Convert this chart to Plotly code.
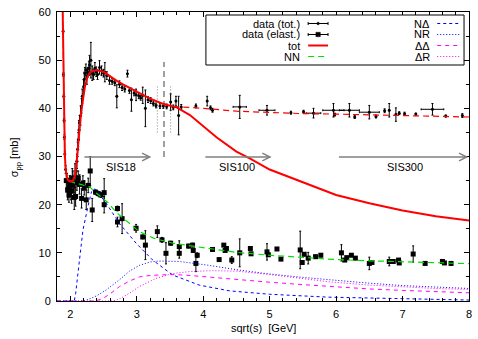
import plotly.graph_objects as go

# ---------------- data ----------------
# total cross-section curve (tot, red solid)
tot_curve_x = [1.886, 1.89, 1.895, 1.90, 1.905, 1.91, 1.918, 1.93, 1.95, 1.97, 2.0, 2.04, 2.07, 2.09, 2.11,
               2.13, 2.16, 2.19, 2.22, 2.26, 2.30, 2.35, 2.40, 2.50, 2.60, 2.70, 2.80, 3.00, 3.20,
               3.40, 3.60, 3.80, 4.00, 4.20, 4.50, 4.70, 5.00, 5.50, 6.00, 6.50, 7.00, 7.50, 8.00]
tot_curve_y = [60.0, 55.0, 49.0, 43.5, 39.0, 35.0, 30.5, 27.3, 25.6, 25.0, 24.8, 25.0, 26.0, 28.0, 31.5,
               35.0, 38.8, 41.7, 44.5, 46.6, 47.5, 47.8, 47.9, 47.6, 46.6, 45.7, 44.9, 43.4, 42.0,
               40.9, 40.2, 38.6, 36.3, 34.0, 31.0, 29.6, 27.3, 24.6, 22.0, 20.3, 18.8, 17.6, 16.7]

# high-energy total fit (red dashed)
fit_x = [3.55, 4.00, 4.50, 5.00, 5.50, 6.00, 7.00, 8.00]
fit_y = [40.4, 40.0, 39.4, 39.1, 38.9, 38.8, 38.5, 38.2]

# NN (elastic, green dashed)
nn_x = [1.886, 1.89, 1.895, 1.90, 1.905, 1.91, 1.918, 1.93, 1.95, 1.97, 2.0, 2.05, 2.10, 2.20, 2.29,
        2.40, 2.57, 2.70, 2.97, 3.04, 3.26, 3.54, 4.04, 4.50, 5.00, 5.50, 6.00, 6.50, 7.00, 7.50, 8.00]
nn_y = [60.0, 55.0, 49.0, 43.5, 39.0, 35.0, 30.5, 27.3, 25.6, 25.0, 24.8, 24.6, 24.4, 24.1, 23.7,
        22.3, 20.4, 18.3, 15.1, 14.4, 13.0, 12.0, 11.0, 10.1, 9.5, 9.0, 8.6, 8.35, 8.15, 7.95, 7.75]

# N-Delta (blue dashed)
nd_x = [1.80, 2.06, 2.08, 2.10, 2.14, 2.19, 2.27, 2.32, 2.37, 2.42, 2.54, 2.74, 2.99, 3.24, 3.54, 3.94,
        4.40, 5.00, 5.88, 7.00, 8.00]
nd_y = [0.0, 0.0, 1.5, 4.0, 9.2, 14.7, 19.9, 22.7, 23.3, 22.5, 20.3, 16.1, 12.0, 8.5, 5.4, 3.3,
        2.1, 1.4, 0.8, 0.4, 0.2]

# N-R (blue dotted)
nr_x = [1.80, 2.20, 2.30, 2.40, 2.54, 2.74, 2.89, 3.04, 3.20, 3.34, 3.64, 4.04, 4.50, 5.00, 5.50,
        5.88, 6.50, 7.00, 7.50, 8.00]
nr_y = [0.0, 0.0, 0.5, 1.1, 2.3, 4.4, 6.2, 7.4, 8.1, 8.3, 8.2, 7.5, 6.5, 5.6, 4.9, 4.4, 3.7, 3.2, 2.9, 2.6]

# Delta-Delta (magenta dashed)
dd_x = [1.80, 2.38, 2.50, 2.60, 2.74, 2.90, 3.04, 3.20, 3.34, 3.54, 3.80, 4.04, 4.50, 5.00, 5.50,
        5.88, 6.50, 7.00, 7.50, 8.00]
dd_y = [0.0, 0.0, 0.6, 1.5, 3.0, 4.2, 5.0, 5.3, 5.4, 5.5, 5.3, 5.0, 4.45, 3.9, 3.4, 3.0, 2.5, 2.2, 1.95, 1.7]

# Delta-R (magenta dotted)
dr_x = [1.80, 2.65, 2.75, 2.89, 3.04, 3.29, 3.54, 3.79, 4.14, 4.50, 5.00, 5.50, 5.88, 6.50, 7.00, 7.50, 8.00]
dr_y = [0.0, 0.0, 0.5, 1.6, 3.0, 4.7, 5.7, 6.1, 6.3, 6.2, 5.5, 4.6, 4.0, 3.3, 2.9, 2.6, 2.4]

# measured total cross sections
tot_x = [1.892, 1.897, 1.902, 1.907, 1.912, 1.918, 1.93,
         1.95, 1.97, 1.99, 2.01, 2.03, 2.05, 2.07, 2.09,
         2.10, 2.11, 2.12, 2.13, 2.14, 2.155, 2.17, 2.18, 2.20, 2.21, 2.22, 2.235, 2.25, 2.26, 2.28, 2.29,
         2.31, 2.33, 2.35, 2.37, 2.39, 2.41, 2.44, 2.47, 2.50, 2.52, 2.55, 2.59, 2.63, 2.67, 2.70, 2.74,
         2.78, 2.82, 2.86, 2.89, 2.92, 2.96, 2.99, 3.03, 3.06, 3.09, 3.13, 3.17, 3.21, 3.25, 3.29, 3.35,
         3.40, 3.45, 3.51, 3.55, 3.59, 3.63, 3.67, 3.89, 4.06, 4.11, 4.14, 4.55, 4.96, 5.32, 5.51, 5.66,
         5.96, 5.98, 6.20, 6.28, 6.50, 6.60, 6.73, 6.80, 6.90, 6.95, 7.03, 7.20, 7.45, 7.65, 7.90]
tot_y = [56.0, 47.0, 42.5, 37.5, 34.0, 30.5, 27.3,
         25.0, 23.5, 24.5, 23.0, 25.0, 24.0, 26.0, 27.0,
         29.0, 31.5, 33.5, 35.5, 37.0, 38.5, 40.5, 42.5, 44.5, 46.0, 47.3, 48.0, 46.5, 47.5, 48.3, 49.0,
         50.0, 47.3, 47.0, 48.3, 47.6, 47.0, 48.5, 47.8, 47.3, 47.5, 46.8, 45.8, 45.6, 45.3, 42.5, 45.0,
         44.3, 44.0, 47.2, 43.7, 41.8, 43.2, 42.8, 42.6, 42.2, 42.7, 40.0, 41.8, 41.6, 41.0, 40.6, 40.5,
         40.5, 40.4, 41.3, 40.2, 41.5, 38.5, 40.3, 40.5, 41.5, 40.1, 39.6, 40.3, 39.6, 39.1, 39.3, 39.0,
         39.6, 38.7, 39.6, 38.2, 39.2, 38.3, 39.5, 39.6, 38.7, 39.0, 38.9, 38.8, 39.8, 38.4, 38.5]
tot_err = [0.4, 0.4, 0.4, 0.4, 0.5, 0.6, 0.8,
           1.5, 2.0, 1.5, 2.0, 2.5, 1.5, 2.5, 2.0,
           1.5, 1.5, 1.5, 2.0, 1.5, 2.0, 1.5, 1.5, 1.5, 1.5, 1.2, 1.2, 1.5, 1.0, 1.5, 2.0,
           3.7, 1.5, 1.0, 1.2, 1.0, 1.0, 1.4, 1.0, 0.8, 2.0, 0.8, 0.8, 0.6, 0.6, 2.4, 0.7,
           0.6, 0.6, 0.7, 0.6, 2.4, 0.6, 1.2, 0.6, 0.5, 1.7, 3.8, 0.6, 0.6, 0.5, 0.5, 0.5,
           0.5, 0.5, 1.7, 0.5, 1.0, 4.0, 0.5, 0.4, 1.0, 0.4, 0.4, 2.4, 1.0, 0.3, 0.3, 1.0,
           1.4, 0.3, 1.4, 0.3, 1.4, 0.3, 0.4, 1.4, 1.4, 0.3, 0.3, 0.2, 1.2, 0.2, 0.4]
tot_xerr = [0.0] * 74 + [0.10, 0.12, 0.0, 0.0, 0.11,
                         0.16, 0.0, 0.15, 0.0, 0.15, 0.0, 0.0, 0.0, 0.0, 0.0, 0.0, 0.0, 0.17, 0.0, 0.0]

# measured elastic cross sections
el_x = [1.94, 1.96, 1.98, 2.00, 2.02, 2.04, 2.06, 2.08, 2.10, 2.12, 2.14, 2.17, 2.19, 2.21, 2.24, 2.27,
        2.30, 2.33, 2.38, 2.42, 2.46, 2.51, 2.51, 2.71, 2.71, 2.78, 2.99, 3.09, 3.13, 3.31, 3.38, 3.44,
        3.51, 3.64, 3.64, 3.78, 3.84, 3.85, 3.89, 3.91, 4.14, 4.24, 4.31, 4.33, 4.35, 4.43, 4.55, 4.71,
        4.72, 4.96, 4.98, 5.11, 5.17, 5.46, 5.49, 5.52, 5.58, 5.69, 5.77, 6.08, 6.13, 6.16, 6.23, 6.29,
        6.50, 6.54, 6.80, 6.86, 6.94, 6.95, 7.16, 7.34, 7.60, 7.63, 7.73]
el_y = [25.0, 23.0, 22.0, 24.0, 22.8, 25.5, 21.5, 21.7, 24.5, 25.5, 24.2, 21.3, 24.5, 23.5, 21.0, 24.0,
        27.0, 18.9, 22.6, 22.3, 22.0, 22.5, 20.0, 19.2, 16.4, 17.1, 15.1, 13.3, 11.6, 14.4, 12.7, 9.9,
        12.0, 11.3, 9.9, 11.4, 11.6, 10.5, 7.8, 9.5, 10.7, 8.6, 11.6, 10.5, 10.9, 8.5, 10.0, 10.9,
        9.8, 10.2, 9.6, 10.8, 8.7, 10.6, 8.0, 9.7, 8.9, 9.2, 9.5, 10.0, 8.5, 9.0, 9.5, 8.9,
        7.8, 8.0, 8.2, 8.2, 8.5, 7.9, 9.75, 7.8, 8.2, 7.9, 7.8]
el_err = [1.5, 2.0, 1.5, 2.0, 2.5, 1.5, 2.5, 2.0, 1.5, 1.5, 2.0, 2.0, 1.5, 1.5, 2.0, 1.5,
          3.0, 2.4, 0.5, 0.5, 0.5, 2.9, 1.7, 0.5, 1.0, 3.1, 0.8, 0.4, 3.0, 1.2, 0.5, 2.2,
          0.4, 1.2, 1.0, 0.4, 0.4, 0.4, 1.7, 0.5, 0.3, 0.3, 0.3, 0.3, 0.3, 0.7, 2.9, 0.3,
          0.3, 1.7, 0.3, 0.3, 0.3, 3.9, 0.3, 0.3, 1.2, 0.3, 0.3, 1.7, 0.3, 0.3, 0.3, 0.3,
          1.3, 0.3, 0.9, 0.3, 0.3, 0.3, 1.7, 0.3, 0.3, 0.3, 0.3]

# reference energy markers (grey vertical lines)
vdash_x = [3.41]
vdash_y = [29.9, 49.6]
vdot_x = [3.31, 3.51]
vdot_y = [35.0, 44.8]

# accelerator ranges (arrows)
sis_names = ["SIS18", "SIS100", "SIS300"]
sis_start = [2.19, 4.01, 6.02]
sis_end = [3.22, 5.03, 7.99]
sis_label_x = [2.77, 4.51, 7.03]
sis_level = 29.9
sis_label_level = 27.8

x_ticks = [2, 3, 4, 5, 6, 7, 8]
y_ticks = [0, 10, 20, 30, 40, 50, 60]

# ---------------- figure ----------------
FONT = "Liberation Sans, Arial, sans-serif"
RED, GREEN, BLUE, MAG, GREY = "#ff0000", "#00e000", "#0000ff", "#ff00ff", "#808080"

fig = go.Figure()

# grey vertical markers
for vx in vdash_x:
    fig.add_trace(go.Scatter(x=[vx, vx], y=vdash_y, mode="lines",
                             line=dict(color=GREY, width=1.5, dash="6px,4px"), hoverinfo="skip"))
for vx in vdot_x:
    fig.add_trace(go.Scatter(x=[vx, vx], y=vdot_y, mode="lines",
                             line=dict(color=GREY, width=1, dash="1px,2px"), hoverinfo="skip"))

# data
fig.add_trace(go.Scatter(x=tot_x, y=tot_y, mode="markers",
                         marker=dict(color="black", size=3, symbol="circle"),
                         error_y=dict(type="data", array=tot_err, color="black", thickness=1, width=1),
                         error_x=dict(type="data", array=tot_xerr, color="black", thickness=1, width=1)))
fig.add_trace(go.Scatter(x=el_x, y=el_y, mode="markers",
                         marker=dict(color="black", size=5, symbol="square"),
                         error_y=dict(type="data", array=el_err, color="black", thickness=1, width=1)))

# model curves
fig.add_trace(go.Scatter(x=nd_x, y=nd_y, mode="lines", line=dict(color=BLUE, width=1, dash="3px,3px")))
fig.add_trace(go.Scatter(x=nr_x, y=nr_y, mode="lines", line=dict(color=BLUE, width=1, dash="1px,2px")))
fig.add_trace(go.Scatter(x=dd_x, y=dd_y, mode="lines", line=dict(color=MAG, width=1, dash="4px,4px")))
fig.add_trace(go.Scatter(x=dr_x, y=dr_y, mode="lines", line=dict(color=MAG, width=1, dash="1px,2px")))
fig.add_trace(go.Scatter(x=nn_x, y=nn_y, mode="lines", line=dict(color=GREEN, width=1.2, dash="6px,4px")))
fig.add_trace(go.Scatter(x=fit_x, y=fit_y, mode="lines", line=dict(color=RED, width=1.2, dash="6px,4px")))
fig.add_trace(go.Scatter(x=tot_curve_x, y=tot_curve_y, mode="lines", line=dict(color=RED, width=2)))

annotations = []
shapes = []

# arrows for accelerator ranges
for name, x0, x1, xl in zip(sis_names, sis_start, sis_end, sis_label_x):
    annotations.append(dict(x=x1, y=sis_level, ax=x0, ay=sis_level, xref="x", yref="y",
                            axref="x", ayref="y", text="", showarrow=True,
                            arrowhead=5, arrowsize=1.0, arrowwidth=1.5, arrowcolor=GREY))
    annotations.append(dict(x=xl, y=sis_label_level, xref="x", yref="y", text=name, showarrow=False,
                            font=dict(family=FONT, size=11, color="black")))

# manual gnuplot-like legend
L, R_, T, B = 57, 472, 12, 301  # plot area in pixels
W, H = R_ - L, B - T


def px(x):
    return (x - L) / W


def py(y):
    return (B - y) / H


shapes.append(dict(type="rect", xref="paper", yref="paper", x0=px(207), x1=px(467),
                   y0=py(65), y1=py(15), line=dict(color="black", width=1), fillcolor="white",
                   layer="above"))

left_entries = [("data (tot.)", "tot"), ("data (elast.)", "el"), ("tot", "red"), ("NN", "nn")]
right_entries = [("NΔ", (BLUE, "3px,3px")), ("NR", (BLUE, "1px,2px")),
                 ("ΔΔ", (MAG, "4px,4px")), ("ΔR", (MAG, "1px,2px"))]
rows = [23.5, 34.5, 45.5, 56.5]

for (label, kind), yy in zip(left_entries, rows):
    annotations.append(dict(x=px(303), y=py(yy), xref="paper", yref="paper", text=label,
                            xanchor="right", yanchor="middle", showarrow=False, borderpad=0,
                            font=dict(family=FONT, size=11, color="black")))
    if kind in ("tot", "el"):
        shapes.append(dict(type="line", xref="paper", yref="paper", x0=px(310), x1=px(330),
                           y0=py(yy), y1=py(yy), line=dict(color="black", width=1), layer="above"))
        for ex in (310, 330):
            shapes.append(dict(type="line", xref="paper", yref="paper", x0=px(ex), x1=px(ex),
                               y0=py(yy - 1.5), y1=py(yy + 1.5), line=dict(color="black", width=1),
                               layer="above"))
        r = 1.3 if kind == "tot" else 2.2
        shapes.append(dict(type="rect" if kind == "el" else "circle", xref="paper", yref="paper",
                           x0=px(320 - r), x1=px(320 + r), y0=py(yy + r), y1=py(yy - r),
                           fillcolor="black", line=dict(color="black", width=0.5), layer="above"))
    elif kind == "red":
        shapes.append(dict(type="line", xref="paper", yref="paper", x0=px(310), x1=px(330),
                           y0=py(yy), y1=py(yy), line=dict(color=RED, width=2), layer="above"))
    else:
        shapes.append(dict(type="line", xref="paper", yref="paper", x0=px(310), x1=px(330),
                           y0=py(yy), y1=py(yy), line=dict(color=GREEN, width=1.2, dash="6px,4px"),
                           layer="above"))

for (label, (col, dash)), yy in zip(right_entries, rows):
    annotations.append(dict(x=px(434), y=py(yy), xref="paper", yref="paper", text=label,
                            xanchor="right", yanchor="middle", showarrow=False, borderpad=0,
                            font=dict(family=FONT, size=11, color="black")))
    shapes.append(dict(type="line", xref="paper", yref="paper", x0=px(440), x1=px(464),
                       y0=py(yy), y1=py(yy), line=dict(color=col, width=1, dash=dash), layer="above"))

# axis titles
annotations.append(dict(x=0.5, y=py(328), xref="paper", yref="paper", text="sqrt(s)  [GeV]",
                        showarrow=False, yanchor="middle", font=dict(family=FONT, size=11, color="black")))
annotations.append(dict(x=px(15), y=py(157), xref="paper", yref="paper", text="σ<sub>pp</sub> [mb]",
                        showarrow=False, textangle=-90, xanchor="center", yanchor="middle",
                        font=dict(family=FONT, size=11, color="black")))

axis_common = dict(showline=True, linecolor="black", linewidth=1, mirror="allticks", ticks="inside",
                   ticklen=5, tickwidth=1, tickcolor="black", showgrid=False, zeroline=False,
                   tickfont=dict(family=FONT, size=11, color="black"), ticklabelstandoff=3)

fig.update_layout(
    width=478, height=339, autosize=False,
    margin=dict(l=L, r=478 - R_, t=T, b=339 - B),
    paper_bgcolor="white", plot_bgcolor="white",
    showlegend=False,
    hovermode=False,
    font=dict(family=FONT, size=11, color="black"),
    xaxis=dict(range=[1.8, 8], tickvals=x_ticks,
               minor=dict(dtick=0.2, tick0=0, ticks="inside", ticklen=3, tickcolor="black"),
               **axis_common),
    yaxis=dict(range=[0, 60], tickvals=y_ticks,
               minor=dict(dtick=5, tick0=0, ticks="inside", ticklen=3, tickcolor="black"),
               **axis_common),
    annotations=annotations,
    shapes=shapes,
)

fig.write_html("out.html", config={"displayModeBar": False, "staticPlot": True},
               post_script="document.body.style.margin='0px';document.body.style.overflow='hidden';")
